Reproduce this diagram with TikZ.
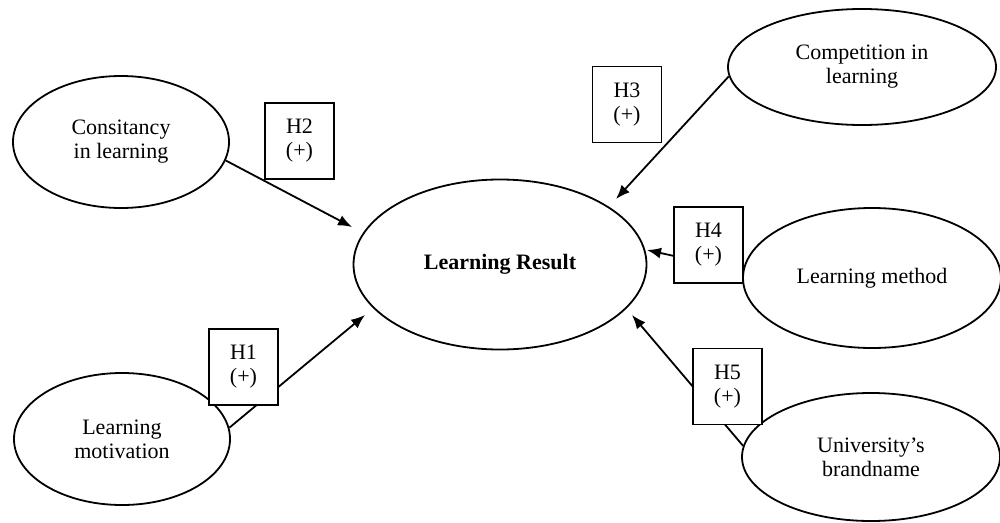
\documentclass[tikz,border=0pt]{standalone}
\usepackage{fontspec}
\setmainfont{Liberation Serif}
\usetikzlibrary{shapes.geometric,arrows.meta}
\begin{document}
\begin{tikzpicture}[x=1pt,y=-1pt,
  font=\fontsize{22}{24}\selectfont,
  ell/.style={draw,ellipse,line width=1.8pt,inner sep=0pt,align=center},
  hbox/.style={draw,fill=white,line width=1.8pt,minimum width=69pt,minimum height=76pt,inner sep=0pt,align=center},
  conn/.style={line width=1.8pt,-{Latex[length=14pt,width=11pt]}}]
\useasboundingbox (0,0) rectangle (1000,522);
\node[ell,minimum width=216pt,minimum height=132pt] (cons) at (121,142) {Consitancy\\in learning};
\node[ell,minimum width=216pt,minimum height=132pt] (mot) at (122,439) {Learning\\motivation};
\node[ell,minimum width=293pt,minimum height=170pt] (res) at (500,264.5) {\textbf{Learning Result}};
\node[ell,minimum width=268pt,minimum height=116pt] (comp) at (862,67) {Competition in\\learning};
\node[ell,minimum width=258pt,minimum height=140pt] (meth) at (872,278) {Learning method};
\node[ell,minimum width=258pt,minimum height=128pt] (univ) at (871,457) {University’s\\brandname};
\coordinate (t2) at (352,227);
\coordinate (t1) at (365,315);
\coordinate (t3) at (616,199);
\coordinate (t4) at (647,250);
\coordinate (t5) at (632,315);
\draw[conn] (cons.-10) -- (t2);
\draw[conn] (mot.6.5) -- (t1);
\draw[conn] (comp.184) -- (t3);
\draw[conn] (meth.177) -- (t4);
\draw[conn] (univ.175) -- (t5);
\node[hbox] (h2) at (299.5,141) {H2\\(+)};
\node[hbox] (h1) at (243.5,367) {H1\\(+)};
\node[hbox] (h3) at (627,104.5) {H3\\(+)};
\node[hbox] (h4) at (708.5,245) {H4\\(+)};
\node[hbox] (h5) at (727.5,386.5) {H5\\(+)};
\end{tikzpicture}
\end{document}
